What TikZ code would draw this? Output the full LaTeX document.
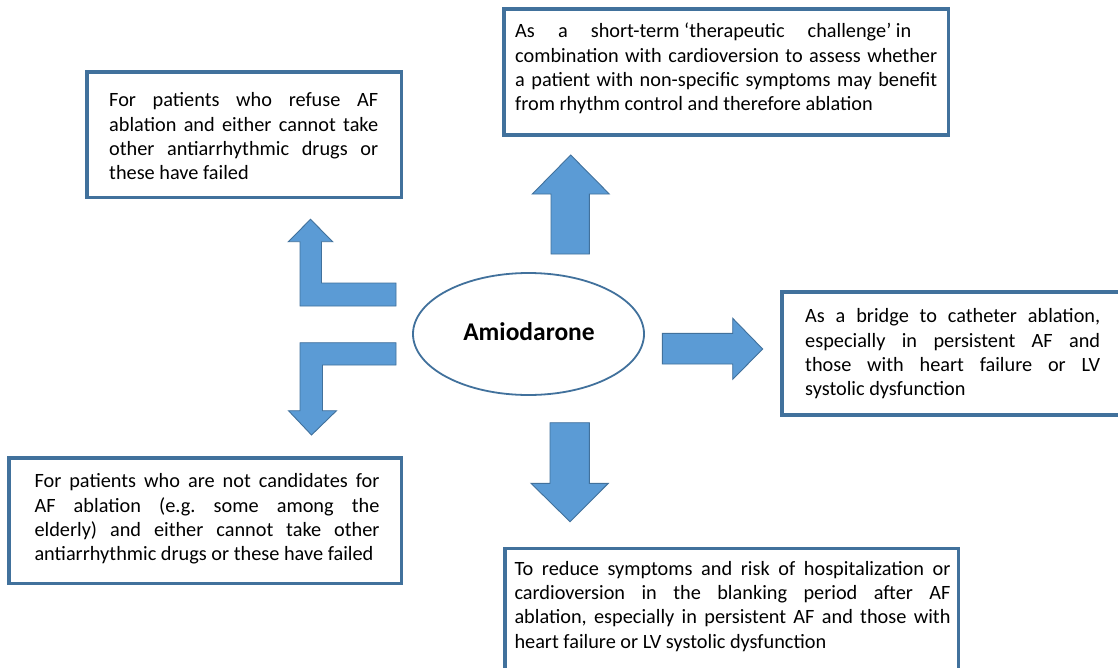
\documentclass[tikz,border=0pt]{standalone}
\usepackage{fontspec}
\setmainfont{Carlito}
\definecolor{boxblue}{HTML}{41719C}
\definecolor{arrowfill}{HTML}{5B9BD5}
\newcommand{\boxtext}[2]{\vtop{\hsize=#1\parindent=0pt\hyphenpenalty=10000\exhyphenpenalty=10000\frenchspacing\fontsize{20.3}{24.4}\selectfont #2}}
\tikzset{
  infobox/.style={draw=boxblue, line width=3.5pt, fill=none},
  boxtxt/.style={anchor=base west, inner sep=0pt, text=black},
  blockarrow/.style={fill=arrowfill, draw=boxblue, line width=0.9pt, line join=miter},
}
\begin{document}
\begin{tikzpicture}[x=1pt,y=-1pt]
\useasboundingbox (0,0) rectangle (1118,667);
\fill[white] (0,0) rectangle (1118,667);

% boxes (outer edges minus half line width)
\draw[infobox] (86.75,71.75) rectangle (401.25,197.25);
\node[boxtxt] (t1) at (109,106.7) {\boxtext{269pt}{For patients who refuse AF\linebreak ablation and either cannot take\linebreak other antiarrhythmic drugs or\linebreak these have failed}};

\draw[infobox] (504,9) rectangle (948.25,135);
\node[boxtxt] (t2) at (515,37.7) {\boxtext{422pt}{\hbox to 396pt{As\hfill a\hfill short-term ‘therapeutic\hfill challenge’ in}\par combination with cardioversion to assess whether\linebreak a patient with non-specific symptoms may benefit\linebreak from rhythm control and therefore ablation}};

\draw[infobox] (781.75,291.75) rectangle (1125,415);
\node[boxtxt] (t3) at (805,322.7) {\boxtext{295pt}{As a bridge to catheter ablation,\linebreak especially in persistent AF and\linebreak those with heart failure or LV\linebreak systolic dysfunction}};

\draw[infobox] (9,457.75) rectangle (401.5,583.25);
\node[boxtxt] (t4) at (34.3,487.7) {\boxtext{345pt}{For patients who are not candidates for\linebreak AF ablation (e.g. some among the\linebreak elderly) and either cannot take other\linebreak antiarrhythmic drugs or these have failed}};

\draw[infobox] (505,548.5) rectangle (958.25,680);
\node[boxtxt] (t5) at (514.3,575) {\boxtext{436pt}{To reduce symptoms and risk of hospitalization or\linebreak cardioversion in the blanking period after AF\linebreak ablation, especially in persistent AF and those with\linebreak heart failure or LV systolic dysfunction}};

% central ellipse
\draw[boxblue, line width=1.8pt] (528.5,334) ellipse [x radius=115.5, y radius=61];
\node[inner sep=0pt, anchor=base] (amio) at (529,340.5) {\fontsize{25.5}{30}\selectfont\bfseries Amiodarone};

% block arrows
\draw[blockarrow] (570.7,155) -- (609.3,194) -- (589.3,194) -- (589.3,254) -- (551,254) -- (551,194) -- (532.3,194) -- cycle;
\draw[blockarrow] (762.7,349) -- (732.7,379.3) -- (732.7,364) -- (662.3,364) -- (662.3,333.3) -- (732.7,333.3) -- (732.7,318.3) -- cycle;
\draw[blockarrow] (570,521.7) -- (608.3,483.3) -- (589.3,483.3) -- (589.3,422.7) -- (550,422.7) -- (550,483.3) -- (531,483.3) -- cycle;
\draw[blockarrow] (310.5,219.3) -- (332.7,241.7) -- (321.5,241.7) -- (321.5,283) -- (396,283) -- (396,306) -- (300,306) -- (300,241.7) -- (288.3,241.7) -- cycle;
\draw[blockarrow] (396,342.7) -- (396,365) -- (322.5,365) -- (322.5,410.7) -- (336.5,410.7) -- (311.5,435) -- (288.5,410.7) -- (300,410.7) -- (300,342.7) -- cycle;
\end{tikzpicture}
\end{document}
